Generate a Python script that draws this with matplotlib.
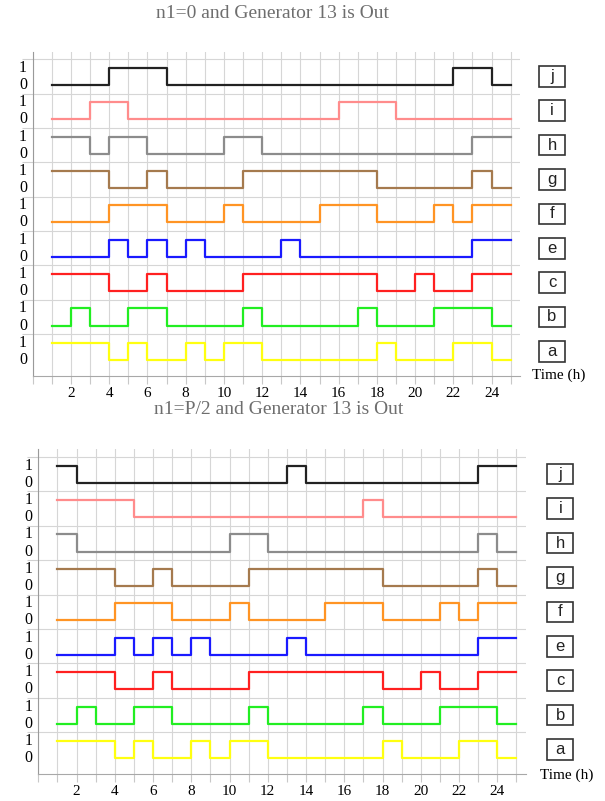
import numpy as np
import matplotlib.pyplot as plt
from matplotlib.patches import Rectangle

# hourly on/off status (value held during [h, h+1) for h = 1..24)
hours = np.arange(1, 25)
names = ['j', 'i', 'h', 'g', 'f', 'e', 'c', 'b', 'a']
colors = ['#222222', '#ff8c8c', '#8c8c8c', '#a57a4e', '#ff9424',
          '#1a1aff', '#ff2020', '#22ee22', '#ffff10']

# --- n1 = 0 ---
j_top = [0,0,0,1,1,1,0,0,0,0,0,0,0,0,0,0,0,0,0,0,0,1,1,0]
i_top = [0,0,1,1,0,0,0,0,0,0,0,0,0,0,0,1,1,1,0,0,0,0,0,0]
h_top = [1,1,0,1,1,0,0,0,0,1,1,0,0,0,0,0,0,0,0,0,0,0,1,1]
g_top = [1,1,1,0,0,1,0,0,0,0,1,1,1,1,1,1,1,0,0,0,0,0,1,0]
f_top = [0,0,0,1,1,1,0,0,0,1,0,0,0,0,1,1,1,0,0,0,1,0,1,1]
e_top = [0,0,0,1,0,1,0,1,0,0,0,0,1,0,0,0,0,0,0,0,0,0,1,1]
c_top = [1,1,1,0,0,1,0,0,0,0,1,1,1,1,1,1,1,0,0,1,0,0,1,1]
b_top = [0,1,0,0,1,1,0,0,0,0,1,0,0,0,0,0,1,0,0,0,1,1,1,0]
a_top = [1,1,1,0,1,0,0,1,0,1,1,0,0,0,0,0,0,1,0,0,0,1,1,0]

# --- n1 = P/2 ---
j_bot = [1,0,0,0,0,0,0,0,0,0,0,0,1,0,0,0,0,0,0,0,0,0,1,1]
i_bot = [1,1,1,1,0,0,0,0,0,0,0,0,0,0,0,0,1,0,0,0,0,0,0,0]
h_bot = [1,0,0,0,0,0,0,0,0,1,1,0,0,0,0,0,0,0,0,0,0,0,1,0]
g_bot = [1,1,1,0,0,1,0,0,0,0,1,1,1,1,1,1,1,0,0,0,0,0,1,0]
f_bot = [0,0,0,1,1,1,0,0,0,1,0,0,0,0,1,1,1,0,0,0,1,0,1,1]
e_bot = [0,0,0,1,0,1,0,1,0,0,0,0,1,0,0,0,0,0,0,0,0,0,1,1]
c_bot = [1,1,1,0,0,1,0,0,0,0,1,1,1,1,1,1,1,0,0,1,0,0,1,1]
b_bot = [0,1,0,0,1,1,0,0,0,0,1,0,0,0,0,0,1,0,0,0,1,1,1,0]
a_bot = [1,1,1,0,1,0,0,1,0,1,1,0,0,0,0,0,0,1,0,0,0,1,1,0]

top_signals = [j_top, i_top, h_top, g_top, f_top, e_top, c_top, b_top, a_top]
bot_signals = [j_bot, i_bot, h_bot, g_bot, f_bot, e_bot, c_bot, b_bot, a_bot]

SERIF = 'Liberation Serif'
SANS = 'Liberation Sans'


def draw_panel(ax, signals, box_x, time_y):
    n = len(signals)
    for idx, (vals, col) in enumerate(zip(signals, colors)):
        k = n - 1 - idx  # row, a at bottom
        x = np.append(hours, hours[-1] + 1)
        y = np.append(vals, vals[-1]) * 0.5 + k + 0.25
        ax.step(x, y, where='post', color=col, lw=1.6, zorder=3)
        # 1 / 0 level labels
        ax.text(-0.5, k + 0.75, '1', ha='center', va='center', fontsize=11.5,
                family=SERIF, clip_on=False)
        ax.text(-0.5, k + 0.25, '0', ha='center', va='center', fontsize=11.5,
                family=SERIF, clip_on=False)
        # boxed row name
        ax.add_patch(Rectangle((box_x - 0.68, k + 0.2), 1.36, 0.6, fill=False,
                               ec='#333333', lw=1.2, clip_on=False))
        ax.text(box_x, k + 0.5, names[idx], ha='center', va='center',
                fontsize=12, family=SANS, color='#222222', clip_on=False)

    ax.set_xlim(0, 25.5)
    ax.set_ylim(-0.21, n + 0.22)
    xt = np.arange(0, 26)
    ax.set_xticks(xt)
    ax.set_xticklabels([str(t) if (t % 2 == 0 and t > 0) else '' for t in xt],
                       family=SERIF, fontsize=11)
    ax.set_yticks(np.arange(1, n + 1))
    ax.set_yticklabels([])
    ax.tick_params(axis='x', length=6, color='#c8c8c8', width=0.8, pad=2)
    ax.tick_params(axis='y', length=8, color='#d0d0d0', width=0.8)
    ax.grid(True, color='#d6d6d6', lw=0.8, zorder=0)
    ax.set_axisbelow(True)
    for s in ['top', 'right']:
        ax.spines[s].set_visible(False)
    ax.spines['left'].set_color('#9a9a9a')
    ax.spines['bottom'].set_color('#a8a8a8')
    ax.text(box_x + 0.35, time_y, 'Time (h)', ha='center', va='center',
            fontsize=11, family=SERIF, clip_on=False)


fig = plt.figure(figsize=(6.05, 8.01), dpi=100)
ax1 = fig.add_axes([0.054, 0.531, 0.806, 0.4045])
ax2 = fig.add_axes([0.0633, 0.0337, 0.806, 0.4053])

draw_panel(ax1, top_signals, 27.16, -0.21)
draw_panel(ax2, bot_signals, 27.3, -0.24)

fig.text(272 / 605, 1 - 14 / 801, 'n1=0 and Generator 13 is Out', ha='center',
         va='center', fontsize=14, family=SERIF, color='#6e6e6e')
fig.text(279 / 605, 1 - 410 / 801, 'n1=P/2 and Generator 13 is Out', ha='center',
         va='center', fontsize=14, family=SERIF, color='#6e6e6e')

fig.savefig('out.png', dpi=100)
